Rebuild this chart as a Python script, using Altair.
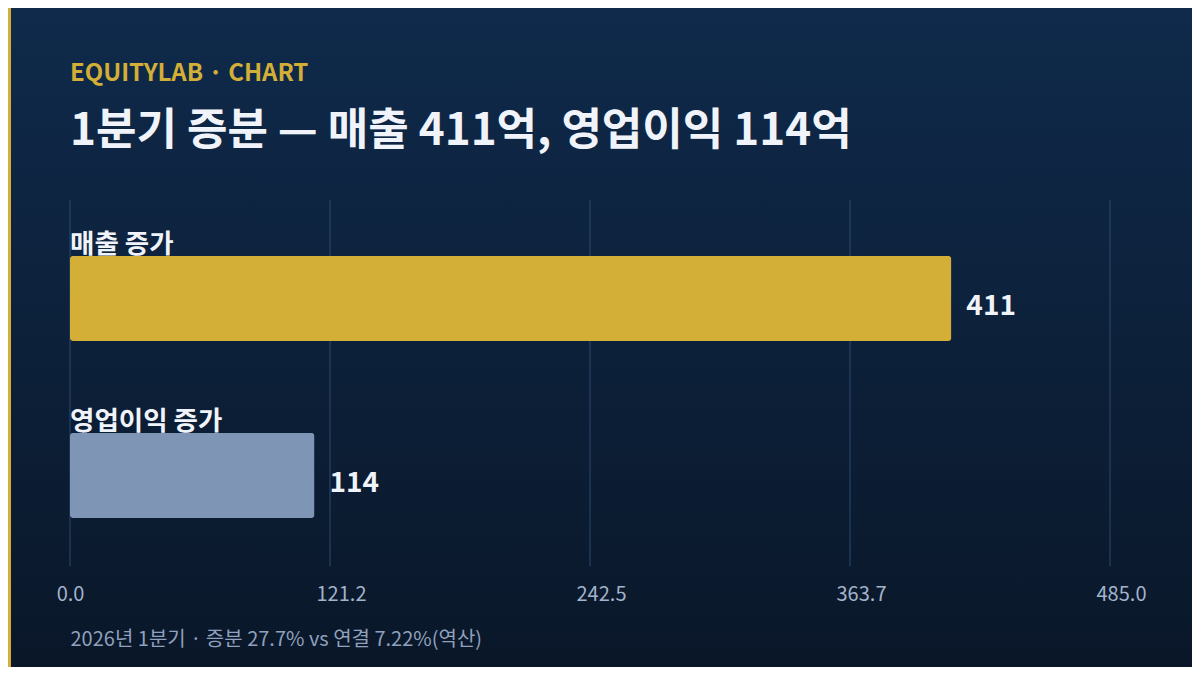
import altair as alt
import pandas as pd

categories = ["매출 증가", "영업이익 증가"]
values = [411, 114]
bar_colors = ["#d4af37", "#7f95b5"]
tick_values = [0, 121.245, 242.49, 363.735, 484.98]
x_max = 484.98

kicker = "EQUITYLAB · CHART"
headline = "1분기 증분 — 매출 411억, 영업이익 114억"
footer = "2026년 1분기 · 증분 27.7% vs 연결 7.22%(역산)"

FONT = "Noto Sans CJK KR"
GOLD = "#d4af37"
WHITE = "#f0f4fa"

df = pd.DataFrame({"cat": categories, "val": values, "color": bar_colors})
ticks_df = pd.DataFrame({"val": tick_values})

W, H = 1040, 366
PAD_L, PAD_T = 62, 192
TOTAL_W, TOTAL_H = 1184, 659
PAD_R = TOTAL_W - PAD_L - W
PAD_B = TOTAL_H - PAD_T - H

x_scale = alt.Scale(domain=[0, x_max], nice=False, zero=True)

x_axis = alt.Axis(
    values=tick_values,
    format=".1f",
    grid=False,
    domain=False,
    ticks=False,
    tickSize=0,
    zindex=1,
    labelFlush=False,
    labelPadding=18,
    labelFont=FONT,
    labelFontSize=20,
    labelColor="#a3b3cb",
    labelBaseline="top",
    labelOffset={"condition": {"test": "datum.value === 0", "value": 0}, "value": 11},
    title=footer,
    titleFont=FONT,
    titleFontSize=20,
    titleFontWeight="normal",
    titleColor="#8fa1bd",
    titleAnchor="start",
    titleAlign="left",
    titleBaseline="alphabetic",
    titleX=0,
    titleY=79,
)

x_enc = alt.X("val:Q", scale=x_scale, axis=x_axis)

y_enc = alt.Y(
    "cat:N",
    sort=categories,
    axis=None,
    scale=alt.Scale(paddingInner=0.52, paddingOuter=0.294, align=0.538),
)

one = alt.Data(values=[{"k": 1}])

bg = alt.Chart(one).mark_rect(
    color=alt.LinearGradient(
        gradient="linear",
        stops=[
            alt.GradientStop(color="#0f2a4b", offset=0),
            alt.GradientStop(color="#0a1729", offset=1),
        ],
        x1=0, x2=0, y1=0, y2=1,
    )
).encode(
    x=alt.value(-PAD_L), x2=alt.value(W + PAD_R),
    y=alt.value(-PAD_T), y2=alt.value(H + PAD_B),
)

stripe = alt.Chart(one).mark_rect(color=GOLD).encode(
    x=alt.value(-PAD_L), x2=alt.value(-PAD_L + 3),
    y=alt.value(-PAD_T), y2=alt.value(H + PAD_B),
)

kicker_txt = alt.Chart(one).mark_text(
    align="left", baseline="alphabetic",
    font=FONT, fontSize=24, fontWeight="bold", color=GOLD, text=kicker,
).encode(x=alt.value(0), y=alt.value(-119.5))

headline_txt = alt.Chart(one).mark_text(
    align="left", baseline="alphabetic",
    font=FONT, fontSize=44, fontWeight="bold", color=WHITE, text=headline,
).encode(x=alt.value(0), y=alt.value(-55))

grid = alt.Chart(ticks_df).mark_rule(color="#2c4a6f", strokeWidth=1).encode(
    x=x_enc,
)

bars = alt.Chart(df).mark_bar(cornerRadius=3).encode(
    x=x_enc,
    y=y_enc,
    color=alt.Color("color:N", scale=None, legend=None),
)

cat_labels = alt.Chart(df).mark_text(
    align="left", baseline="alphabetic", dy=-45,
    font=FONT, fontSize=26.5, fontWeight="bold", color=WHITE,
).encode(
    x=alt.value(0),
    y=y_enc,
    text="cat:N",
)

val_labels = alt.Chart(df).mark_text(
    align="left", baseline="alphabetic", dx=15, dy=17,
    font=FONT, fontSize=28, fontWeight="bold", color=WHITE,
).encode(
    x=x_enc,
    y=y_enc,
    text=alt.Text("val:Q", format="d"),
)

chart = alt.layer(
    bg, stripe, kicker_txt, headline_txt, grid, bars, cat_labels, val_labels
).properties(
    width=W,
    height=H,
    autosize=alt.AutoSizeParams(type="none"),
    padding={"left": PAD_L, "top": PAD_T, "right": PAD_R, "bottom": PAD_B},
    background="#0c1f38",
).configure_view(stroke=None)

chart.save("out.html", embed_options={"renderer": "svg", "actions": False})
